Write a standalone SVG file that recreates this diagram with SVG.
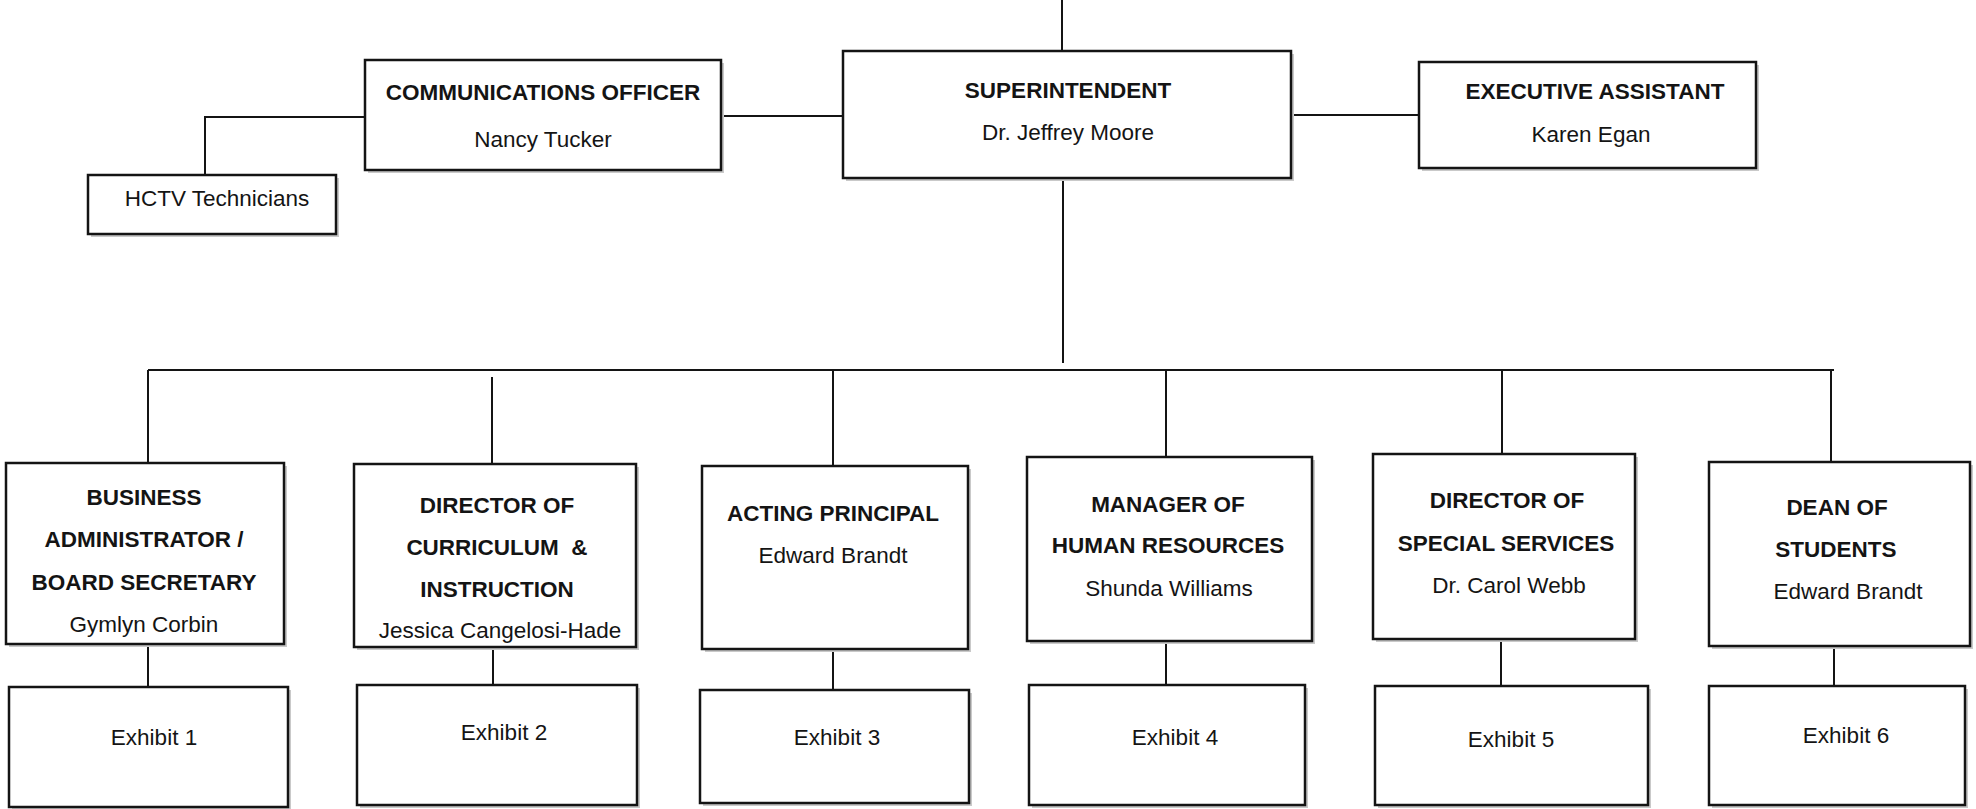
<svg xmlns="http://www.w3.org/2000/svg" width="1976" height="809" viewBox="0 0 1976 809">
  <style>
    .box { fill: #ffffff; stroke: #141414; stroke-width: 2.5; }
    .shadow { fill: #c9c9c9; }
    .wire { fill: none; stroke: #141414; stroke-width: 2; }
    .t { font-family: "Liberation Sans", Arial, sans-serif; font-size: 22.5px; text-anchor: middle; fill: #141414; }
    .b { font-weight: bold; }
  </style>
  <rect width="1976" height="809" fill="#ffffff"/>

  <!-- reporting lines -->
  <g id="connectors">
    <path class="wire" d="M1062 0 V51"/>
    <path class="wire" d="M1063 178 V363"/>
    <path class="wire" d="M148 370 H1834"/>
    <path class="wire" d="M721 116 H843"/>
    <path class="wire" d="M1291 115 H1419"/>
    <path class="wire" d="M365 117 H205 V175"/>
    <path class="wire" d="M148 370 V463"/>
    <path class="wire" d="M492 377 V464"/>
    <path class="wire" d="M833 370 V466"/>
    <path class="wire" d="M1166 370 V457"/>
    <path class="wire" d="M1502 370 V454"/>
    <path class="wire" d="M1831 370 V462"/>
    <path class="wire" d="M148 644 V687"/>
    <path class="wire" d="M493 647 V685"/>
    <path class="wire" d="M833 649 V690"/>
    <path class="wire" d="M1166 641 V685"/>
    <path class="wire" d="M1501 639 V686"/>
    <path class="wire" d="M1834 646 V686"/>
  </g>

  <g id="superintendent">
    <rect class="shadow" x="846" y="54" width="448" height="127"/>
    <rect class="box" x="843" y="51" width="448" height="127"/>
    <text class="t b" x="1068" y="98">SUPERINTENDENT</text>
    <text class="t" x="1068" y="140">Dr. Jeffrey Moore</text>
  </g>

  <g id="communications-officer">
    <rect class="shadow" x="368" y="63" width="356" height="110"/>
    <rect class="box" x="365" y="60" width="356" height="110"/>
    <text class="t b" x="543" y="100">COMMUNICATIONS OFFICER</text>
    <text class="t" x="543" y="147">Nancy Tucker</text>
  </g>

  <g id="hctv-technicians">
    <rect class="shadow" x="91" y="178" width="248" height="59"/>
    <rect class="box" x="88" y="175" width="248" height="59"/>
    <text class="t" x="217" y="206">HCTV Technicians</text>
  </g>

  <g id="executive-assistant">
    <rect class="shadow" x="1422" y="65" width="337" height="106"/>
    <rect class="box" x="1419" y="62" width="337" height="106"/>
    <text class="t b" x="1595" y="99">EXECUTIVE ASSISTANT</text>
    <text class="t" x="1591" y="142">Karen Egan</text>
  </g>

  <g id="business-administrator">
    <rect class="shadow" x="9" y="466" width="278" height="181"/>
    <rect class="box" x="6" y="463" width="278" height="181"/>
    <text class="t b" x="144" y="505">BUSINESS</text>
    <text class="t b" x="144" y="547">ADMINISTRATOR /</text>
    <text class="t b" x="144" y="590">BOARD SECRETARY</text>
    <text class="t" x="144" y="632">Gymlyn Corbin</text>
  </g>

  <g id="director-curriculum">
    <rect class="shadow" x="357" y="467" width="282" height="183"/>
    <rect class="box" x="354" y="464" width="282" height="183"/>
    <text class="t b" x="497" y="513">DIRECTOR OF</text>
    <text class="t b" x="497" y="555" xml:space="preserve">CURRICULUM  &amp;</text>
    <text class="t b" x="497" y="597">INSTRUCTION</text>
    <text class="t" x="500" y="638">Jessica Cangelosi-Hade</text>
  </g>

  <g id="acting-principal">
    <rect class="shadow" x="705" y="469" width="266" height="183"/>
    <rect class="box" x="702" y="466" width="266" height="183"/>
    <text class="t b" x="833" y="521">ACTING PRINCIPAL</text>
    <text class="t" x="833" y="563">Edward Brandt</text>
  </g>

  <g id="manager-human-resources">
    <rect class="shadow" x="1030" y="460" width="285" height="184"/>
    <rect class="box" x="1027" y="457" width="285" height="184"/>
    <text class="t b" x="1168" y="512">MANAGER OF</text>
    <text class="t b" x="1168" y="553">HUMAN RESOURCES</text>
    <text class="t" x="1169" y="596">Shunda Williams</text>
  </g>

  <g id="director-special-services">
    <rect class="shadow" x="1376" y="457" width="262" height="185"/>
    <rect class="box" x="1373" y="454" width="262" height="185"/>
    <text class="t b" x="1507" y="508">DIRECTOR OF</text>
    <text class="t b" x="1506" y="551">SPECIAL SERVICES</text>
    <text class="t" x="1509" y="593">Dr. Carol Webb</text>
  </g>

  <g id="dean-of-students">
    <rect class="shadow" x="1712" y="465" width="261" height="184"/>
    <rect class="box" x="1709" y="462" width="261" height="184"/>
    <text class="t b" x="1837" y="515">DEAN OF</text>
    <text class="t b" x="1836" y="557">STUDENTS</text>
    <text class="t" x="1848" y="599">Edward Brandt</text>
  </g>

  <g id="exhibit-1">
    <rect class="shadow" x="12" y="690" width="279" height="120"/>
    <rect class="box" x="9" y="687" width="279" height="120"/>
    <text class="t" x="154" y="745">Exhibit 1</text>
  </g>

  <g id="exhibit-2">
    <rect class="shadow" x="360" y="688" width="280" height="120"/>
    <rect class="box" x="357" y="685" width="280" height="120"/>
    <text class="t" x="504" y="740">Exhibit 2</text>
  </g>

  <g id="exhibit-3">
    <rect class="shadow" x="703" y="693" width="269" height="113"/>
    <rect class="box" x="700" y="690" width="269" height="113"/>
    <text class="t" x="837" y="745">Exhibit 3</text>
  </g>

  <g id="exhibit-4">
    <rect class="shadow" x="1032" y="688" width="276" height="120"/>
    <rect class="box" x="1029" y="685" width="276" height="120"/>
    <text class="t" x="1175" y="745">Exhibit 4</text>
  </g>

  <g id="exhibit-5">
    <rect class="shadow" x="1378" y="689" width="273" height="119"/>
    <rect class="box" x="1375" y="686" width="273" height="119"/>
    <text class="t" x="1511" y="747">Exhibit 5</text>
  </g>

  <g id="exhibit-6">
    <rect class="shadow" x="1712" y="689" width="256" height="119"/>
    <rect class="box" x="1709" y="686" width="256" height="119"/>
    <text class="t" x="1846" y="743">Exhibit 6</text>
  </g>
</svg>
